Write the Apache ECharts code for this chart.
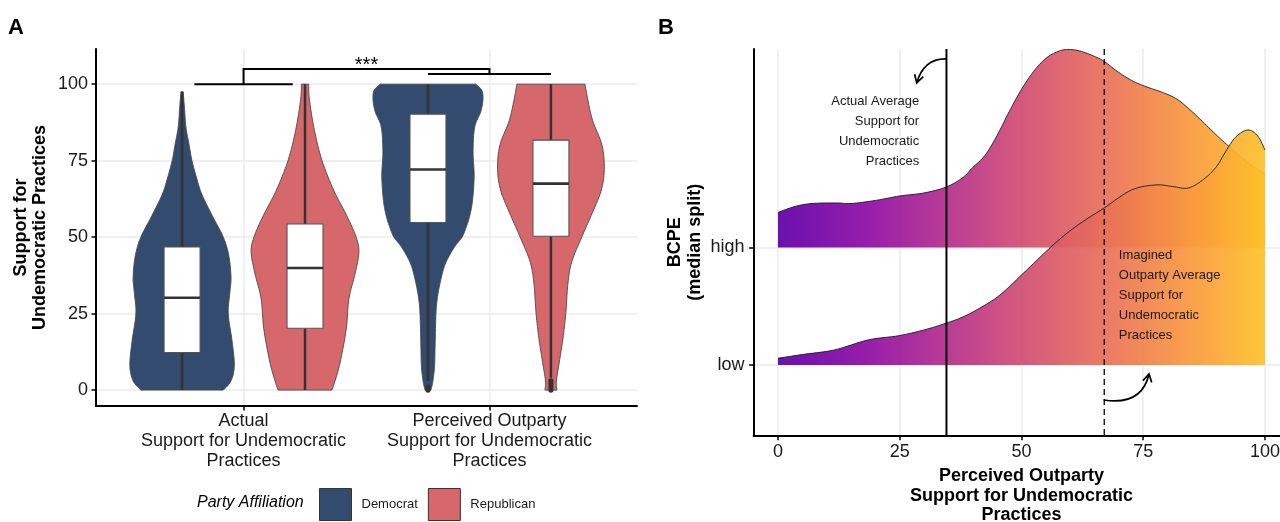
<!DOCTYPE html>
<html><head><meta charset="utf-8">
<script src="https://cdn.jsdelivr.net/npm/echarts@6/dist/echarts.min.js"></script>
<style>html,body{margin:0;padding:0;background:#fff}#c{width:1280px;height:522px}</style>
</head><body><div id="c"></div>
<script>
// ================= DATA =================
// ---- Panel A ----
const categoriesA = ['Actual\nSupport for Undemocratic\nPractices', 'Perceived Outparty\nSupport for Undemocratic\nPractices'];
const parties = ['Democrat', 'Republican'];
const yTicksA = [0, 25, 50, 75, 100];
// box stats per category: [lowerWhisker, q1, median, q3, upperWhisker]
const demBox = [[0, 12.3, 30.2, 46.8, 97.5], [3, 54.8, 72.1, 90.2, 100]];
const repBox = [[0, 20.2, 39.9, 54.3, 100], [4, 50.3, 67.5, 81.7, 100]];
const demOutliers = [[], [0, 1]];
const repOutliers = [[], [0, 1, 2, 3]];
// violin outlines: value grid and relative density (1 = widest)
const demActualY = [0, 3, 8, 16, 25, 32, 37, 44, 50, 57, 64, 69, 75, 80, 86, 92, 97.5];
const demActualD = [0.75, 0.89, 0.95, 0.91, 0.84, 0.87, 0.89, 0.85, 0.75, 0.55, 0.36, 0.27, 0.18, 0.13, 0.07, 0.045, 0.02];
const demPercY = [0, 3, 8, 15, 25, 30, 35, 40, 43, 47, 50, 53, 57, 62, 70, 78, 86, 91, 95, 98, 100];
const demPercD = [0.055, 0.09, 0.12, 0.13, 0.145, 0.17, 0.22, 0.29, 0.36, 0.49, 0.62, 0.69, 0.76, 0.81, 0.84, 0.82, 0.85, 0.96, 1.0, 0.98, 0.87];
const repActualY = [0, 5, 10, 20, 30, 38, 45, 50, 57, 65, 75, 85, 95, 100];
const repActualD = [0.49, 0.58, 0.65, 0.75, 0.80, 0.91, 0.98, 0.93, 0.76, 0.53, 0.31, 0.17, 0.08, 0.067];
const repPercY = [0, 3, 10, 17, 25, 35, 42, 50, 57, 65, 72, 80, 88, 95, 100];
const repPercD = [0.11, 0.10, 0.16, 0.22, 0.27, 0.31, 0.38, 0.56, 0.73, 0.91, 0.97, 0.93, 0.76, 0.67, 0.62];
// significance brackets: [xFrom, xTo, y]
const sigPairs = [[0.8, 1.2, 100], [1.75, 2.25, 103.3]];
const sigLink = [1, 2, 105];
const sigText = '***';

// ---- Panel B ----
const levelsB = ['low', 'high'];
const xTicksB = [0, 25, 50, 75, 100];
const highX = [0, 3.5, 7, 12, 15, 20, 25, 30, 34.6, 38, 40, 42.5, 45, 47.5, 50, 52.5, 55, 57.5, 59.5, 62, 65, 67, 70, 73, 76, 79, 82, 85, 88, 91, 94, 97, 100];
const highH = [0.298, 0.349, 0.374, 0.379, 0.374, 0.400, 0.438, 0.464, 0.515, 0.596, 0.681, 0.783, 0.953, 1.157, 1.345, 1.498, 1.609, 1.668, 1.685, 1.672, 1.626, 1.583, 1.489, 1.413, 1.362, 1.319, 1.260, 1.157, 1.038, 0.919, 0.809, 0.706, 0.621];
const lowX = [0, 5, 11.6, 18.5, 24.8, 30, 34.5, 38, 41.4, 45.6, 51.1, 56.5, 61.1, 66.9, 72.6, 77.6, 81, 84.3, 87.5, 90, 92, 94, 96.5, 98.5, 100];
const lowH = [0.057, 0.089, 0.128, 0.213, 0.249, 0.298, 0.355, 0.409, 0.483, 0.596, 0.809, 1.021, 1.177, 1.334, 1.489, 1.532, 1.519, 1.506, 1.583, 1.685, 1.821, 1.940, 2.0, 1.949, 1.830];
const actualAvg = 34.6;
const imaginedAvg = 67.0;
const noteActual = 'Actual Average\nSupport for\nUndemocratic\nPractices';
const noteImagined = 'Imagined\nOutparty Average\nSupport for\nUndemocratic\nPractices';

// ================= STYLE / LAYOUT =================
const FONT = '"Liberation Sans", Arial, Helvetica, sans-serif';
const DEM = '#334b6e', REP = '#d6676b';
const GRIDC = '#ebebeb';
const VIOLIN_HALF = 55 / 246;   // category units for density 1
const BOX_HALF = 18 / 246;
const DODGE = 0.25;
// annotation anchors (data coords of panel B)
const noteActualAt = [29.0, 3.33];
const noteImaginedAt = [70.0, 2.02];
const arrow1 = [[34.7, 3.604], [30.0, 3.613], [28.5, 3.40]];
const arrow2 = [[66.9, 0.702], [74.7, 0.651], [76.2, 0.923]];
const PLASMA = [[0,'#0d0887'],[0.1,'#41049d'],[0.2,'#6a00a8'],[0.3,'#8f0da4'],[0.4,'#b12a90'],[0.5,'#cc4778'],[0.6,'#e16462'],[0.7,'#f2844b'],[0.8,'#fca636'],[0.9,'#fcce25'],[1,'#f0f921']];
const T0 = 0.17, T1 = 0.87;

function hex2rgb(h){return [parseInt(h.slice(1,3),16),parseInt(h.slice(3,5),16),parseInt(h.slice(5,7),16)];}
function plasmaAt(t){
  for (let i=0;i<PLASMA.length-1;i++){
    const a=PLASMA[i], b=PLASMA[i+1];
    if (t>=a[0] && t<=b[0]){
      const f=(t-a[0])/(b[0]-a[0]); const ca=hex2rgb(a[1]), cb=hex2rgb(b[1]);
      return 'rgb('+ca.map((v,k)=>Math.round(v+(cb[k]-v)*f)).join(',')+')';
    }
  }
  return PLASMA[PLASMA.length-1][1];
}
const gradStops = [];
for (let k=0;k<=28;k++){const u=k/28; gradStops.push({offset:u, color:plasmaAt(T0+(T1-T0)*u)});}

function smoothPath(p, seg){
  seg = seg || 8;
  if (p.length < 3) return p;
  const out=[p[0]];
  for (let i=0;i<p.length-1;i++){
    const p0=p[i-1]||p[i], p1=p[i], p2=p[i+1], p3=p[i+2]||p[i+1];
    for (let s=1;s<=seg;s++){
      const t=s/seg,t2=t*t,t3=t2*t;
      const f=(a,b,c,d)=>0.5*((2*b)+(-a+c)*t+(2*a-5*b+4*c-d)*t2+(-a+3*b-3*c+d)*t3);
      out.push([f(p0[0],p1[0],p2[0],p3[0]), f(p0[1],p1[1],p2[1],p3[1])]);
    }
  }
  return out;
}

function violinRender(boxes, outliers, vY, vD, offset, color){
  return function(params, api){
    const i = params.dataIndex;
    const c = i + 1 + offset;
    const Y = vY[i], D = vD[i];
    const right = smoothPath(Y.map((y,k)=>api.coord([c + D[k]*VIOLIN_HALF, y])));
    const left = smoothPath(Y.map((y,k)=>api.coord([c - D[k]*VIOLIN_HALF, y])));
    const poly = right.concat(left.slice().reverse());
    const b = boxes[i];
    const wTop = api.coord([c, b[4]]), wBot = api.coord([c, b[0]]);
    const q1L = api.coord([c-BOX_HALF, b[1]]), q3R = api.coord([c+BOX_HALF, b[3]]);
    const mL = api.coord([c-BOX_HALF, b[2]]), mR = api.coord([c+BOX_HALF, b[2]]);
    const children = [
      {type:'polygon', shape:{points:poly}, style:{fill:color, stroke:'#4a4a4a', lineWidth:0.9}},
      {type:'line', shape:{x1:wTop[0],y1:wTop[1],x2:wBot[0],y2:wBot[1]}, style:{stroke:'#333',lineWidth:2.5}},
      {type:'rect', shape:{x:q1L[0], y:q3R[1], width:q3R[0]-q1L[0], height:q1L[1]-q3R[1]}, style:{fill:'#fff', stroke:'#555', lineWidth:1.1}},
      {type:'line', shape:{x1:mL[0],y1:mL[1],x2:mR[0],y2:mR[1]}, style:{stroke:'#333',lineWidth:2.6}}
    ];
    outliers[i].forEach(v=>{const p=api.coord([c,v]); children.push({type:'circle', shape:{cx:p[0],cy:p[1],r:2.6}, style:{fill:'#333'}});});
    return {type:'group', children};
  };
}

const ridges = [{level:2, x:highX, h:highH}, {level:1, x:lowX, h:lowH}];

const chart = echarts.init(document.getElementById('c'), null, {renderer:'canvas'});
const axisLineStyle = {onZero:false, lineStyle:{color:'#000', width:2}};
const option = {
  animation:false,
  textStyle:{fontFamily:FONT},
  title:[
    {text:'A', left:8, top:17, padding:0, textStyle:{fontSize:22, fontWeight:'bold', color:'#000', fontFamily:FONT}},
    {text:'B', left:658, top:17, padding:0, textStyle:{fontSize:22, fontWeight:'bold', color:'#000', fontFamily:FONT}},
    {text:'Party Affiliation', left:197, top:495, padding:0, textStyle:{fontSize:16, fontStyle:'italic', fontWeight:'normal', color:'#000', fontFamily:FONT}}
  ],
  legend:{
    data:[{name:parties[0], itemStyle:{color:DEM, borderColor:'#333', borderWidth:1}},
          {name:parties[1], itemStyle:{color:REP, borderColor:'#333', borderWidth:1}}],
    icon:'rect', itemWidth:32, itemHeight:32, left:319, top:488, itemGap:10, padding:0,
    selectedMode:false, textStyle:{fontSize:13, color:'#1a1a1a', padding:[0,0,0,5], fontFamily:FONT}
  },
  grid:[{left:96, top:49, width:541, height:357, outerBoundsMode:'none', containLabel:false},
        {left:753.6, top:49, width:535.7, height:386.7, outerBoundsMode:'none', containLabel:false}],
  xAxis:[
    {gridIndex:0, type:'value', min:0.4, max:2.6,
     axisLine:axisLineStyle,
     axisTick:{customValues:[1,2], length:4.5, lineStyle:{color:'#000', width:1.5}},
     axisLabel:{customValues:[1,2], formatter:v=>categoriesA[Math.round(v)-1], fontSize:18, lineHeight:20, color:'#1a1a1a', margin:5},
     splitLine:{show:true, lineStyle:{color:GRIDC, width:1.5}}},
    {gridIndex:1, type:'value', min:-5, max:105,
     axisLine:axisLineStyle,
     axisTick:{customValues:xTicksB, length:4.5, lineStyle:{color:'#000', width:1.5}},
     axisLabel:{customValues:xTicksB, fontSize:18, color:'#1a1a1a', margin:7},
     splitLine:{show:true, lineStyle:{color:GRIDC, width:1.5}},
     name:'Perceived Outparty\nSupport for Undemocratic\nPractices', nameLocation:'middle', nameGap:31,
     nameTextStyle:{fontSize:18, fontWeight:'bold', lineHeight:19.5, color:'#000', verticalAlign:'top'}}
  ],
  yAxis:[
    {gridIndex:0, type:'value', min:-5.2, max:111.5,
     axisLine:axisLineStyle,
     axisTick:{customValues:yTicksA, length:4.5, lineStyle:{color:'#000', width:1.5}},
     axisLabel:{customValues:yTicksA, fontSize:18, color:'#1a1a1a', margin:8},
     splitLine:{show:true, lineStyle:{color:GRIDC, width:1.5}},
     name:'Support for\nUndemocratic Practices', nameLocation:'middle', nameRotate:90, nameGap:46,
     nameTextStyle:{fontSize:18, fontWeight:'bold', lineHeight:19.5, color:'#000'}},
    {gridIndex:1, type:'value', min:0.398, max:3.689,
     axisLine:axisLineStyle,
     axisTick:{customValues:[1,2], length:4.5, lineStyle:{color:'#000', width:1.5}},
     axisLabel:{customValues:[1,2], formatter:v=>levelsB[Math.round(v)-1], fontSize:18, color:'#1a1a1a', margin:9},
     splitLine:{show:true, lineStyle:{color:GRIDC, width:1.5}},
     name:'BCPE\n(median split)', nameLocation:'middle', nameRotate:90, nameGap:49,
     nameTextStyle:{fontSize:18, fontWeight:'bold', lineHeight:19.5, color:'#000'}}
  ],
  series:[
    {name:parties[0], type:'custom', xAxisIndex:0, yAxisIndex:0, itemStyle:{color:DEM},
     data:[[1,50],[2,50]], encode:{x:0,y:1},
     renderItem:violinRender(demBox, demOutliers, [demActualY, demPercY], [demActualD, demPercD], -DODGE, DEM)},
    {name:parties[1], type:'custom', xAxisIndex:0, yAxisIndex:0, itemStyle:{color:REP},
     data:[[1,50],[2,50]], encode:{x:0,y:1},
     renderItem:violinRender(repBox, repOutliers, [repActualY, repPercY], [repActualD, repPercD], DODGE, REP)},
    {name:'sig', type:'custom', xAxisIndex:0, yAxisIndex:0, data:[[1.5,105]], encode:{x:0,y:1},
     renderItem:function(params, api){
       const st={stroke:'#000', lineWidth:2};
       const ch=[];
       sigPairs.forEach(p=>{const a=api.coord([p[0],p[2]]), b=api.coord([p[1],p[2]]); ch.push({type:'line', shape:{x1:a[0],y1:a[1],x2:b[0],y2:b[1]}, style:st});});
       const pts=[api.coord([sigLink[0], sigPairs[0][2]]), api.coord([sigLink[0], sigLink[2]]), api.coord([sigLink[1], sigLink[2]]), api.coord([sigLink[1], sigPairs[1][2]])];
       ch.push({type:'polyline', shape:{points:pts}, style:{stroke:'#000', lineWidth:2, fill:null}});
       const t=api.coord([(sigLink[0]+sigLink[1])/2, sigLink[2]]);
       ch.push({type:'text', x:t[0], y:t[1]-3, style:{text:sigText, fill:'#000', fontSize:20, fontFamily:FONT, align:'center', verticalAlign:'middle'}});
       return {type:'group', children:ch};
     }},
    {name:'ridges', type:'custom', xAxisIndex:1, yAxisIndex:1, data:[[50,2],[50,1]], encode:{x:0,y:1},
     renderItem:function(params, api){
       const r = ridges[params.dataIndex];
       const top = smoothPath(r.x.map((x,k)=>api.coord([x, r.level + r.h[k]])));
       const b0 = api.coord([r.x[r.x.length-1], r.level]), b1 = api.coord([r.x[0], r.level]);
       const x0 = api.coord([0, r.level])[0], x1 = api.coord([100, r.level])[0];
       return {type:'group', children:[
         {type:'polygon', shape:{points:top.concat([b0,b1])}, style:{fill:new echarts.graphic.LinearGradient(x0,0,x1,0,gradStops,true), opacity:0.93}},
         {type:'polyline', shape:{points:top}, style:{stroke:'#1a1a1a', lineWidth:0.9, fill:null}}
       ]};
     }},
    {name:'refs', type:'custom', xAxisIndex:1, yAxisIndex:1, data:[[actualAvg,2],[imaginedAvg,2]], encode:{x:0,y:1},
     renderItem:function(params, api){
       const cs = params.coordSys;
       const x = api.coord([api.value(0), 2])[0];
       const dashed = params.dataIndex === 1;
       return {type:'line', shape:{x1:x, y1:cs.y, x2:x, y2:cs.y+cs.height},
         style:{stroke:'#000', lineWidth:dashed?1.3:2, lineDash:dashed?[6,4]:null}};
     }},
    {name:'notes', type:'custom', xAxisIndex:1, yAxisIndex:1, data:[[50,2]], encode:{x:0,y:1},
     renderItem:function(params, api){
       const ch=[];
       const a=api.coord(noteActualAt), b=api.coord(noteImaginedAt);
       ch.push({type:'text', x:a[0], y:a[1], style:{text:noteActual, fill:'#1a1a1a', fontSize:13, fontFamily:FONT, align:'right', verticalAlign:'top', lineHeight:20}});
       ch.push({type:'text', x:b[0], y:b[1], style:{text:noteImagined, fill:'#1a1a1a', fontSize:13, fontFamily:FONT, align:'left', verticalAlign:'top', lineHeight:20}});
       [arrow1, arrow2].forEach(ar=>{
         const p0=api.coord(ar[0]), p1=api.coord(ar[1]), p2=api.coord(ar[2]);
         ch.push({type:'bezierCurve', shape:{x1:p0[0],y1:p0[1],x2:p2[0],y2:p2[1],cpx1:p1[0],cpy1:p1[1]}, style:{stroke:'#000', lineWidth:1.7, fill:null}});
         const dx=p2[0]-p1[0], dy=p2[1]-p1[1], L=Math.hypot(dx,dy), ux=-dx/L, uy=-dy/L;
         const ang=Math.PI/6, len=9;
         const w1=[p2[0]+len*(ux*Math.cos(ang)-uy*Math.sin(ang)), p2[1]+len*(ux*Math.sin(ang)+uy*Math.cos(ang))];
         const w2=[p2[0]+len*(ux*Math.cos(-ang)-uy*Math.sin(-ang)), p2[1]+len*(ux*Math.sin(-ang)+uy*Math.cos(-ang))];
         ch.push({type:'polyline', shape:{points:[w1,p2,w2]}, style:{stroke:'#000', lineWidth:1.7, fill:null}});
       });
       return {type:'group', children:ch};
     }}
  ]
};
chart.setOption(option);
</script></body></html>
